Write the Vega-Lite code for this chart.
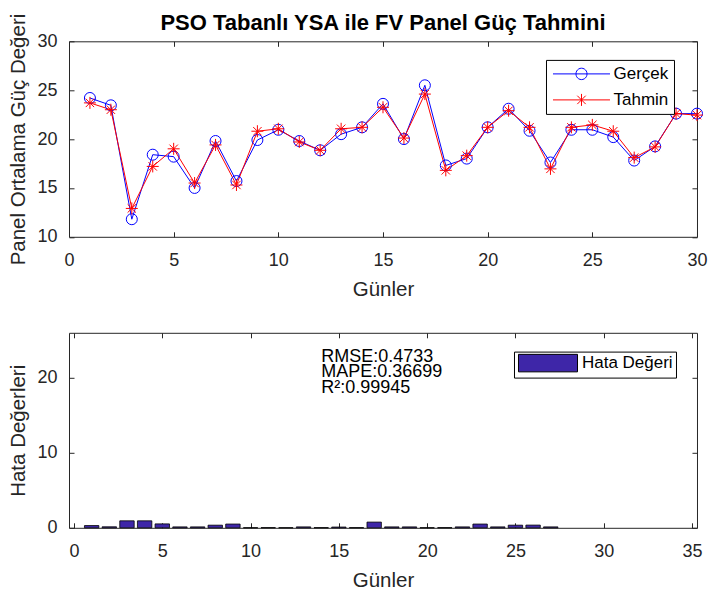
{
  "$schema": "https://vega.github.io/schema/vega-lite/v6.json",
  "background": "white",
  "padding": {"left": 8, "top": 10.3, "right": 5, "bottom": 5},
  "spacing": 95.5,
  "bounds": "flush",
  "resolve": {"scale": {"color": "independent", "shape": "independent"}, "legend": {"color": "independent", "shape": "independent"}},
  "config": {
    "view": {"stroke": "#262626", "strokeWidth": 1},
    "axis": {
      "labelFont": "Liberation Sans", "labelFontSize": 18, "labelColor": "#262626",
      "titleFont": "Liberation Sans", "titleFontSize": 20.5, "titleFontWeight": "normal", "titleColor": "#262626",
      "tickColor": "#262626", "tickSize": -5, "domain": false, "grid": false,
      "labelFlush": false, "labelOverlap": false
    },
    "axisX": {"labelPadding": 20, "titlePadding": 10},
    "axisY": {"labelPadding": 17, "titlePadding": 8}
  },
  "datasets": {
    "power": [
      {"day": 1, "gercek": 24.2, "tahmin": 23.7},
      {"day": 2, "gercek": 23.45, "tahmin": 23.0},
      {"day": 3, "gercek": 11.8, "tahmin": 12.9},
      {"day": 4, "gercek": 18.4, "tahmin": 17.2},
      {"day": 5, "gercek": 18.2, "tahmin": 19.0},
      {"day": 6, "gercek": 15.0, "tahmin": 15.5},
      {"day": 7, "gercek": 19.8, "tahmin": 19.4},
      {"day": 8, "gercek": 15.7, "tahmin": 15.3},
      {"day": 9, "gercek": 19.9, "tahmin": 20.8},
      {"day": 10, "gercek": 20.95, "tahmin": 21.05},
      {"day": 11, "gercek": 19.8, "tahmin": 19.7},
      {"day": 12, "gercek": 18.85, "tahmin": 18.85},
      {"day": 13, "gercek": 20.5, "tahmin": 21.05},
      {"day": 14, "gercek": 21.2, "tahmin": 21.2},
      {"day": 15, "gercek": 23.6, "tahmin": 23.25},
      {"day": 16, "gercek": 20.0, "tahmin": 20.1},
      {"day": 17, "gercek": 25.5, "tahmin": 24.6},
      {"day": 18, "gercek": 17.3, "tahmin": 16.8},
      {"day": 19, "gercek": 18.0, "tahmin": 18.3},
      {"day": 20, "gercek": 21.2, "tahmin": 21.2},
      {"day": 21, "gercek": 23.1, "tahmin": 22.9},
      {"day": 22, "gercek": 20.85, "tahmin": 21.2},
      {"day": 23, "gercek": 17.6, "tahmin": 16.95},
      {"day": 24, "gercek": 20.95, "tahmin": 21.2},
      {"day": 25, "gercek": 20.95, "tahmin": 21.45},
      {"day": 26, "gercek": 20.2, "tahmin": 20.8},
      {"day": 27, "gercek": 17.8, "tahmin": 18.1},
      {"day": 28, "gercek": 19.25, "tahmin": 19.2},
      {"day": 29, "gercek": 22.6, "tahmin": 22.6},
      {"day": 30, "gercek": 22.6, "tahmin": 22.45}
    ],
    "errors": [
      {"day": 1, "err": 0.3}, {"day": 2, "err": 0.13}, {"day": 3, "err": 0.93},
      {"day": 4, "err": 0.93}, {"day": 5, "err": 0.52}, {"day": 6, "err": 0.12},
      {"day": 7, "err": 0.12}, {"day": 8, "err": 0.35}, {"day": 9, "err": 0.5},
      {"day": 10, "err": 0.01}, {"day": 11, "err": 0.02}, {"day": 12, "err": 0.01},
      {"day": 13, "err": 0.12}, {"day": 14, "err": 0.02}, {"day": 15, "err": 0.1},
      {"day": 16, "err": 0.02}, {"day": 17, "err": 0.76}, {"day": 18, "err": 0.12},
      {"day": 19, "err": 0.12}, {"day": 20, "err": 0.01}, {"day": 21, "err": 0.02},
      {"day": 22, "err": 0.12}, {"day": 23, "err": 0.5}, {"day": 24, "err": 0.12},
      {"day": 25, "err": 0.35}, {"day": 26, "err": 0.36}, {"day": 27, "err": 0.12}
    ]
  },
  "vconcat": [
    {
      "width": 628,
      "height": 195.5,
      "title": {"text": "PSO Tabanlı YSA ile FV Panel Güç Tahmini", "font": "Liberation Sans", "fontSize": 22, "fontWeight": "bold", "color": "black", "anchor": "middle", "frame": "group", "offset": -21.6},
      "resolve": {"axis": {"x": "independent", "y": "independent"}},
      "layer": [
        {
          "data": {"name": "power"},
          "mark": {"type": "line", "color": "#0000ff", "strokeWidth": 1},
          "encoding": {
            "x": {"field": "day", "type": "quantitative", "scale": {"domain": [0, 30], "nice": false},
                  "axis": {"orient": "bottom", "values": [0, 5, 10, 15, 20, 25, 30], "title": "Günler"}},
            "y": {"field": "gercek", "type": "quantitative", "scale": {"domain": [10, 30], "nice": false, "zero": false},
                  "axis": {"orient": "left", "values": [10, 15, 20, 25, 30], "title": "Panel Ortalama Güç Değeri"}}
          }
        },
        {
          "data": {"name": "power"},
          "mark": {"type": "line", "color": "#ff0000", "strokeWidth": 1},
          "encoding": {
            "x": {"field": "day", "type": "quantitative",
                  "axis": {"orient": "top", "values": [0, 5, 10, 15, 20, 25, 30], "labels": false, "title": null, "labelPadding": 0, "minExtent": 0, "maxExtent": 0}},
            "y": {"field": "tahmin", "type": "quantitative",
                  "axis": {"orient": "right", "values": [10, 15, 20, 25, 30], "labels": false, "title": null, "labelPadding": 0, "minExtent": 0, "maxExtent": 0}}
          }
        },
        {
          "data": {"name": "power"},
          "mark": {"type": "point", "shape": "circle", "filled": false, "color": "#0000ff", "size": 121, "strokeWidth": 1, "opacity": 1},
          "encoding": {
            "x": {"field": "day", "type": "quantitative", "axis": null},
            "y": {"field": "gercek", "type": "quantitative", "axis": null}
          }
        },
        {
          "data": {"name": "power"},
          "mark": {"type": "point", "shape": "M-1,0L1,0M0,-1L0,1M-0.7,-0.7L0.7,0.7M-0.7,0.7L0.7,-0.7", "filled": false, "color": "#ff0000", "size": 144, "strokeWidth": 1, "opacity": 1},
          "encoding": {
            "x": {"field": "day", "type": "quantitative", "axis": null},
            "y": {"field": "tahmin", "type": "quantitative", "axis": null}
          }
        },
        {
          "data": {"values": []},
          "mark": {"type": "point", "filled": false, "strokeWidth": 1, "opacity": 1},
          "encoding": {
            "color": {"field": "series", "type": "nominal",
                      "scale": {"domain": ["Gerçek", "Tahmin"], "range": ["#0000ff", "#ff0000"]},
                      "legend": {"orient": "none", "legendX": 477, "legendY": 18.6, "title": null,
                                 "strokeColor": "#000000", "fillColor": "white", "padding": 5.5, "rowPadding": 8,
                                 "labelOffset": 45, "labelFont": "Liberation Sans", "labelFontSize": 17, "labelColor": "black",
                                 "symbolSize": 196, "symbolStrokeWidth": 1, "labelLimit": 300}},
            "shape": {"field": "series", "type": "nominal",
                      "scale": {"domain": ["Gerçek", "Tahmin"],
                                "range": ["M-1,0L7.143,0M2.286,0A0.786,0.786 0 1,0 3.857,0A0.786,0.786 0 1,0 2.286,0",
                                          "M-1,0L7.143,0M3.07,-0.857L3.07,0.857M2.47,-0.6L3.67,0.6M2.47,0.6L3.67,-0.6"]},
                      "legend": {"orient": "none", "legendX": 477, "legendY": 18.6, "title": null,
                                 "strokeColor": "#000000", "fillColor": "white", "padding": 5.5, "rowPadding": 8,
                                 "labelOffset": 45, "labelFont": "Liberation Sans", "labelFontSize": 17, "labelColor": "black",
                                 "symbolSize": 196, "symbolStrokeWidth": 1, "labelLimit": 300}}
          }
        }
      ]
    },
    {
      "width": 628,
      "height": 195,
      "resolve": {"axis": {"x": "independent", "y": "independent"}},
      "layer": [
        {
          "data": {"name": "errors"},
          "mark": {"type": "bar", "width": 14.4, "stroke": "#000000", "strokeWidth": 0.8},
          "encoding": {
            "x": {"field": "day", "type": "quantitative", "scale": {"domain": [0, 35], "nice": false},
                  "axis": {"orient": "bottom", "values": [0, 5, 10, 15, 20, 25, 30, 35], "title": "Günler"}},
            "y": {"field": "err", "type": "quantitative", "scale": {"domain": [0, 26], "nice": false},
                  "axis": {"orient": "left", "values": [0, 10, 20], "title": "Hata Değerleri"}},
            "color": {"datum": "Hata Değeri", "type": "nominal",
                      "scale": {"domain": ["Hata Değeri"], "range": ["#3e26a8"]},
                      "legend": {"orient": "none", "legendX": 445, "legendY": 18.8, "title": null,
                                 "strokeColor": "#000000", "fillColor": "white", "padding": 3,
                                 "labelOffset": 48, "labelFont": "Liberation Sans", "labelFontSize": 17, "labelColor": "black",
                                 "symbolSize": 196, "symbolType": "M-1,-1.25L7.43,-1.25L7.43,1.25L-1,1.25Z",
                                 "symbolStrokeColor": "#000000", "symbolStrokeWidth": 1, "labelLimit": 300,
                                 "encode": {"symbols": {"update": {"stroke": {"value": "#000000"}, "strokeWidth": {"value": 1}}}}}}
          }
        },
        {
          "data": {"values": [{}]},
          "mark": {"type": "text", "align": "left", "baseline": "top", "font": "Liberation Sans", "fontSize": 18, "color": "#000000", "lineBreak": "\n", "lineHeight": 15.5},
          "encoding": {
            "x": {"datum": 14, "type": "quantitative",
                  "axis": {"orient": "top", "values": [0, 5, 10, 15, 20, 25, 30, 35], "labels": false, "title": null, "labelPadding": 0, "minExtent": 0, "maxExtent": 0}},
            "y": {"datum": 24, "type": "quantitative",
                  "axis": {"orient": "right", "values": [0, 10, 20], "labels": false, "title": null, "labelPadding": 0, "minExtent": 0, "maxExtent": 0}},
            "text": {"value": "RMSE:0.4733\nMAPE:0.36699\nR²:0.99945"}
          }
        }
      ]
    }
  ]
}
